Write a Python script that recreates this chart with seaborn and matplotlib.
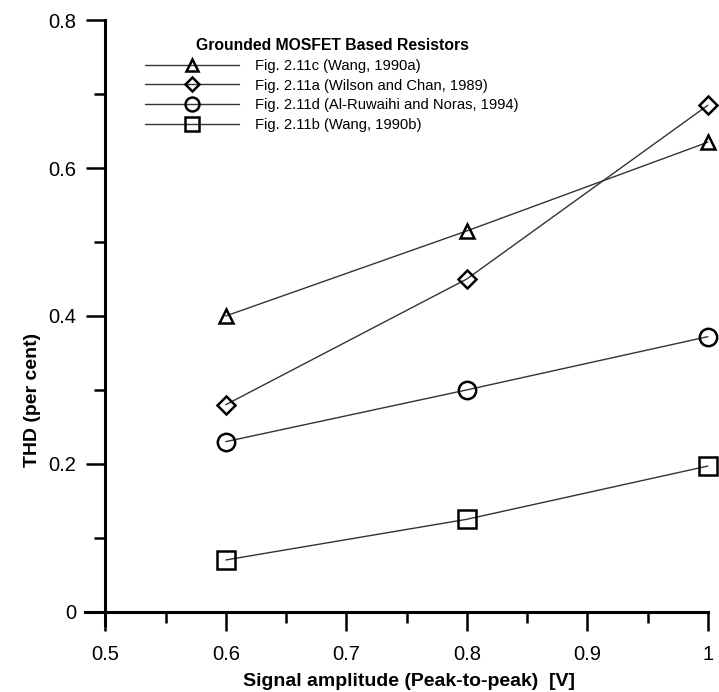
import numpy as np
import pandas as pd
import matplotlib
matplotlib.use('Agg')
import matplotlib.pyplot as plt
import seaborn as sns

# Data
amplitude = [0.6, 0.8, 1.0]
thd_wang_a = [0.40, 0.515, 0.635]
thd_wilson = [0.28, 0.45, 0.685]
thd_ruwaihi = [0.23, 0.30, 0.372]
thd_wang_b = [0.07, 0.125, 0.197]

labels = [
    'Fig. 2.11c (Wang, 1990a)',
    'Fig. 2.11a (Wilson and Chan, 1989)',
    'Fig. 2.11d (Al-Ruwaihi and Noras, 1994)',
    'Fig. 2.11b (Wang, 1990b)',
]
series = [thd_wang_a, thd_wilson, thd_ruwaihi, thd_wang_b]
markers = ['^', 'D', 'o', 's']
msizes = [10, 9.5, 12.5, 12.5]

sns.set_style('ticks')
plt.rcParams['font.family'] = ['Liberation Sans', 'DejaVu Sans']
plt.rcParams['text.color'] = 'black'
plt.rcParams['axes.labelcolor'] = 'black'
plt.rcParams['xtick.color'] = 'black'
plt.rcParams['ytick.color'] = 'black'

fig = plt.figure(figsize=(7.19, 6.92), dpi=100)
ax = fig.add_axes([0.118, 0.0968, 0.8665, 0.874])

for vals, lab, mk, ms in zip(series, labels, markers, msizes):
    df = pd.DataFrame({'x': amplitude, 'y': vals})
    sns.lineplot(data=df, x='x', y='y', ax=ax, label=lab, color='#333333',
                 linewidth=1.0, marker=mk, markersize=ms,
                 markerfacecolor='none', markeredgecolor='black',
                 markeredgewidth=1.8, clip_on=False)

ax.set_xlim(0.483, 1.0)
ax.set_ylim(-0.018, 0.8)
ax.spines['left'].set_position(('data', 0.5))
ax.spines['bottom'].set_position(('data', 0.0))
ax.spines['right'].set_visible(False)
ax.spines['top'].set_visible(False)
for s in ['left', 'bottom']:
    ax.spines[s].set_linewidth(2.2)
    ax.spines[s].set_color('black')

ax.set_xticks([0.5, 0.6, 0.7, 0.8, 0.9, 1.0])
ax.set_xticklabels(['0.5', '0.6', '0.7', '0.8', '0.9', '1'])
ax.set_xticks([0.55, 0.65, 0.75, 0.85, 0.95], minor=True)
ax.set_yticks([0, 0.2, 0.4, 0.6, 0.8])
ax.set_yticklabels(['0', '0.2', '0.4', '0.6', '0.8'])
ax.set_yticks([0.1, 0.3, 0.5, 0.7], minor=True)
ax.tick_params(which='major', direction='out', length=14, width=1.8,
               color='black', labelsize=14.5, labelcolor='black')
ax.tick_params(axis='x', which='major', pad=10)
ax.tick_params(axis='y', which='major', pad=7)
ax.tick_params(which='minor', direction='out', length=8, width=1.8,
               color='black')

ax.set_xlabel('Signal amplitude (Peak-to-peak)  [V]', fontsize=14,
              fontweight='bold')
ax.set_ylabel('THD (per cent)', fontsize=14, fontweight='bold')
ax.xaxis.set_label_coords(0.52, -0.08)
ax.yaxis.set_label_coords(-0.07, 0.372)

leg = ax.legend(loc='upper left', bbox_to_anchor=(0.08, 0.988), frameon=False,
                fontsize=10.6, numpoints=1, handlelength=6.4,
                handletextpad=1.1, labelspacing=0.4, borderpad=0.2,
                title='Grounded MOSFET Based Resistors',
                title_fontproperties={'weight': 'bold', 'size': 11.3})
for h in leg.legend_handles:
    h.set_markersize(h.get_markersize() * 0.8)

fig.savefig('out.png', dpi=100)
